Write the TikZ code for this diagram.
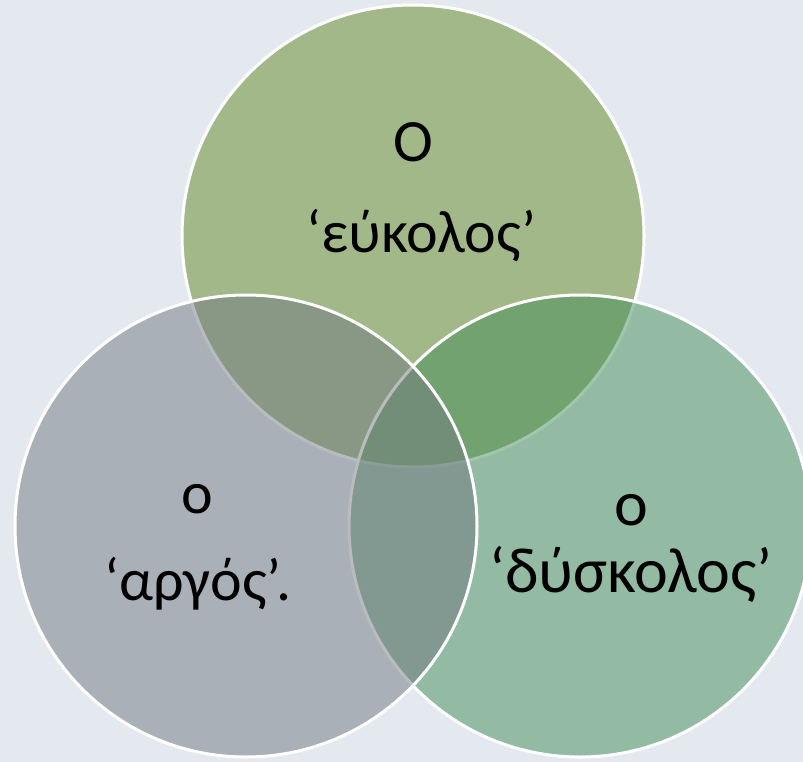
\documentclass[tikz,border=0pt]{standalone}
\usepackage{fontspec}
\setmainfont{Carlito}
\definecolor{bgcol}{RGB}{228,232,239}
\definecolor{topcol}{RGB}{98,138,35}
\definecolor{rightcol}{RGB}{68,142,89}
\definecolor{leftcol}{RGB}{114,122,129}
\tikzset{
  venn/.style={circle, minimum size=462pt, inner sep=0pt, draw=white,
    line width=3pt, fill opacity=0.5, draw opacity=1},
  lbl/.style={anchor=base, inner sep=0pt, font=\fontsize{60}{64}\selectfont, text=black},
  lblbig/.style={lbl, font=\fontsize{64}{68}\selectfont}
}
\begin{document}
\begin{tikzpicture}[x=1pt, y=-1pt]
  % canvas
  \fill[bgcol] (0,0) rectangle (803,762);
  \useasboundingbox (0,0) rectangle (803,762);
  % three overlapping sets, drawn back to front
  \node[venn, fill=topcol]   (top)   at (413,236) {};
  \node[venn, fill=rightcol] (right) at (580,526) {};
  \node[venn, fill=leftcol]  (left)  at (246,526) {};
  % labels
  \node[lbl] (t1) at (413,162) {Ο};
  \node[lbl] (t2) at (421,252) {‘εύκολος’};
  \node[lbl] (l1) at (197,513) {ο};
  \node[lbl] (l2) at (198,600) {‘αργός’.};
  \node[lblbig] (r1) at (631,525) {ο};
  \node[lblbig] (r2) at (631,592) {‘δύσκολος’};
\end{tikzpicture}
\end{document}
